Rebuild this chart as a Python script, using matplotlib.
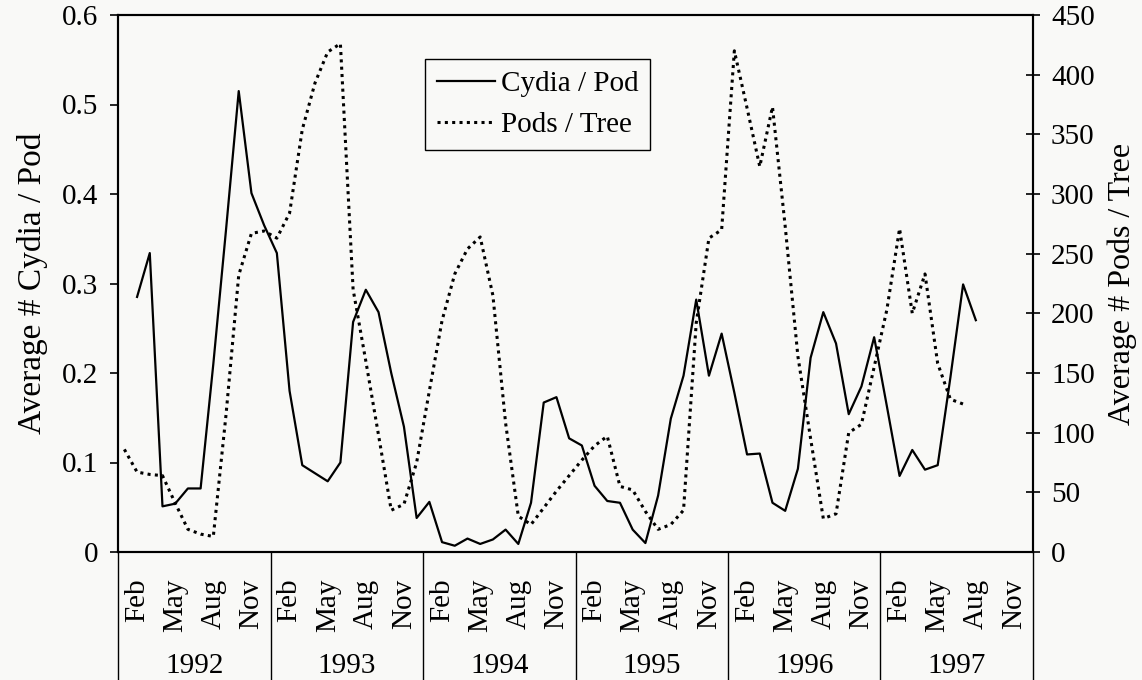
import numpy as np
import matplotlib
matplotlib.use('Agg')
import matplotlib.pyplot as plt
import matplotlib.transforms as mtrans
from matplotlib.ticker import FuncFormatter

years = [1992, 1993, 1994, 1995, 1996, 1997]
month_names = ['Feb', 'May', 'Aug', 'Nov']
month_pos = [1, 4, 7, 10]  # month within year, Jan = 0

# monthly values, Cydia / Pod from Feb 1992 to Aug 1997
cydia_per_pod = [
    0.285, 0.334, 0.051, 0.054, 0.071, 0.071, 0.21, 0.36, 0.515, 0.401, 0.365,
    0.334, 0.18, 0.097, 0.088, 0.079, 0.100, 0.257, 0.293, 0.268, 0.20, 0.14, 0.038,
    0.056, 0.011, 0.007, 0.015, 0.009, 0.014, 0.025, 0.009, 0.055, 0.167, 0.173, 0.127,
    0.119, 0.074, 0.057, 0.055, 0.025, 0.010, 0.063, 0.149, 0.197, 0.282, 0.197, 0.244,
    0.178, 0.109, 0.110, 0.055, 0.046, 0.093, 0.217, 0.268, 0.233, 0.154, 0.185, 0.240,
    0.163, 0.085, 0.114, 0.092, 0.097, 0.195, 0.299, 0.259,
]
cydia_start = 1  # Feb 1992

# monthly values, Pods / Tree from Jan 1992 to Jul 1997
pods_per_tree = [
    86, 67, 65, 64, 41, 19, 15, 13, 115, 232, 267, 269,
    263, 284, 354, 393, 419, 426, 220, 160, 98, 35, 40, 75,
    135, 194, 233, 254, 264, 215, 108, 30, 23, 37, 51, 64,
    77, 89, 97, 55, 52, 34, 19, 23, 35, 192, 263, 270,
    420, 372, 323, 373, 273, 164, 95, 28, 32, 100, 107, 155,
    203, 271, 200, 233, 158, 128, 124,
]
pods_start = 0  # Jan 1992

plt.rcParams['font.family'] = ['Liberation Serif', 'DejaVu Serif']
fs = 21
bg = '#f9f9f7'

fig = plt.figure(figsize=(11.42, 6.8), dpi=100, facecolor=bg)
ax = fig.add_axes([118 / 1142, 1 - 552 / 680, 915 / 1142, 537 / 680])
ax.set_facecolor(bg)
ax2 = ax.twinx()

x_cydia = np.arange(len(cydia_per_pod)) + cydia_start + 0.5
x_pods = np.arange(len(pods_per_tree)) + pods_start + 0.5

l1, = ax.plot(x_cydia, cydia_per_pod, color='black', lw=1.6, label='Cydia / Pod')
l2, = ax2.plot(x_pods, pods_per_tree, color='black', lw=2.2,
               linestyle=(0, (1, 1.4)), label='Pods / Tree')

n_months = 12 * len(years)
ax.set_xlim(0, n_months)
ax.set_ylim(0, 0.6)
ax2.set_ylim(0, 450)

ax.set_yticks(np.arange(0, 0.61, 0.1))
ax.yaxis.set_major_formatter(FuncFormatter(lambda v, p: '0' if abs(v) < 1e-9 else f'{v:.1f}'))
ax2.set_yticks(np.arange(0, 451, 50))

for a in (ax, ax2):
    for s in a.spines.values():
        s.set_linewidth(1.5)
        s.set_color('black')

ax.tick_params(axis='y', direction='out', length=6, width=1.2, labelsize=fs, pad=8)
ax2.tick_params(axis='y', direction='inout', length=10, width=1.2, labelsize=fs, pad=8)

# year separators as long major ticks, month names as minor tick labels
year_edges = [12 * k for k in range(len(years) + 1)]
ax.set_xticks(year_edges)
ax.set_xticklabels([])
ax.tick_params(axis='x', which='major', direction='out', length=93, width=1.0)
month_ticks = [12 * k + p + 0.5 for k in range(len(years)) for p in month_pos]
month_labels = [m for k in range(len(years)) for m in month_names]
ax.set_xticks(month_ticks, minor=True)
ax.set_xticklabels(month_labels, minor=True, rotation=90, fontsize=fs)
ax.tick_params(axis='x', which='minor', length=0, pad=19)

trans = mtrans.blended_transform_factory(ax.transData, ax.transAxes)
for k, yr in enumerate(years):
    ax.text(12 * k + 6, -0.213, str(yr), transform=trans, ha='center', va='center',
            fontsize=fs)

ax.set_ylabel('Average # Cydia / Pod', fontsize=24, labelpad=10)
ax2.set_ylabel('Average # Pods / Tree', fontsize=23, labelpad=9)

leg = ax2.legend([l1, l2], ['Cydia / Pod', 'Pods / Tree'], loc='upper left',
                 bbox_to_anchor=(0.3355, 0.918), fontsize=fs, frameon=True,
                 fancybox=False, edgecolor='black', facecolor=bg, framealpha=1,
                 handlelength=2.0, handletextpad=0.2, borderpad=0.4,
                 labelspacing=0.5, borderaxespad=0)
leg.get_frame().set_linewidth(1.0)

fig.savefig('out.png', dpi=100, facecolor=bg)
